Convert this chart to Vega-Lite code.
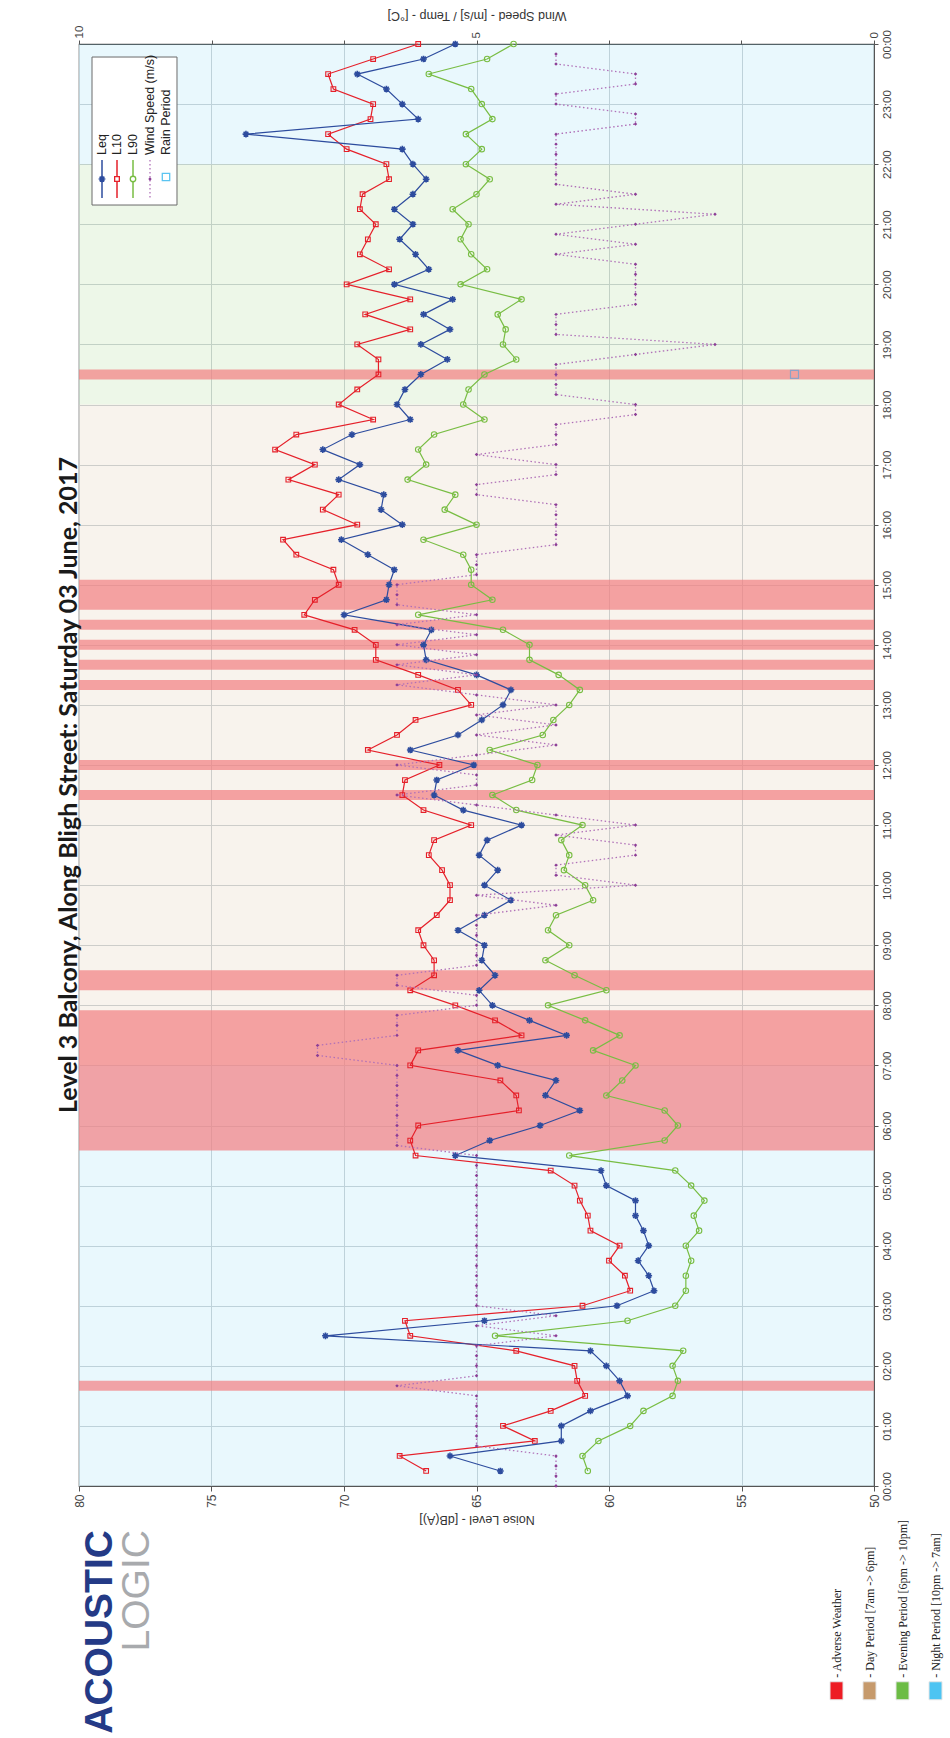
{
  "$schema": "https://vega.github.io/schema/vega-lite/v6.json",
  "width": 795,
  "height": 1442,
  "autosize": {"type": "none"},
  "padding": {"left": 79, "top": 44, "right": 76, "bottom": 252},
  "background": "white",
  "title": {
    "text": "Level 3 Balcony, Along Bligh Street: Saturday 03 June, 2017",
    "orient": "left", "anchor": "middle", "frame": "group", "offset": -29, "baseline": "alphabetic", "dx": -20,
    "font": "Lato", "fontSize": 25, "fontWeight": "bold", "color": "#1a1a1a"
  },
  "config": {
    "view": {"stroke": "#555555", "strokeWidth": 1.2},
    "axis": {
      "labelFont": "Liberation Sans", "titleFont": "Liberation Sans",
      "labelColor": "#444444", "titleColor": "#333333",
      "labelFontSize": 12, "titleFontSize": 12.5, "titleFontWeight": "normal",
      "domainColor": "#555555", "tickColor": "#555555",
      "gridColor": "#cfd4d8", "gridWidth": 1
    }
  },
  "datasets": {
    "noise": [
      {"minute": 15, "Leq": 64.1, "L10": 66.9, "L90": 60.8},
      {"minute": 30, "Leq": 66.0, "L10": 67.9, "L90": 61.0},
      {"minute": 45, "Leq": 61.8, "L10": 62.8, "L90": 60.4},
      {"minute": 60, "Leq": 61.8, "L10": 64.0, "L90": 59.2},
      {"minute": 75, "Leq": 60.7, "L10": 62.2, "L90": 58.7},
      {"minute": 90, "Leq": 59.3, "L10": 60.9, "L90": 57.6},
      {"minute": 105, "Leq": 59.6, "L10": 61.2, "L90": 57.4},
      {"minute": 120, "Leq": 60.1, "L10": 61.3, "L90": 57.6},
      {"minute": 135, "Leq": 60.7, "L10": 63.5, "L90": 57.2},
      {"minute": 150, "Leq": 70.7, "L10": 67.5, "L90": 64.3},
      {"minute": 165, "Leq": 64.7, "L10": 67.7, "L90": 59.3},
      {"minute": 180, "Leq": 59.7, "L10": 61.0, "L90": 57.5},
      {"minute": 195, "Leq": 58.3, "L10": 59.2, "L90": 57.1},
      {"minute": 210, "Leq": 58.5, "L10": 59.4, "L90": 57.1},
      {"minute": 225, "Leq": 58.9, "L10": 60.0, "L90": 56.9},
      {"minute": 240, "Leq": 58.5, "L10": 59.6, "L90": 57.1},
      {"minute": 255, "Leq": 58.7, "L10": 60.7, "L90": 56.6},
      {"minute": 270, "Leq": 59.0, "L10": 60.8, "L90": 56.8},
      {"minute": 285, "Leq": 59.0, "L10": 61.1, "L90": 56.4},
      {"minute": 300, "Leq": 60.1, "L10": 61.3, "L90": 56.9},
      {"minute": 315, "Leq": 60.3, "L10": 62.2, "L90": 57.5},
      {"minute": 330, "Leq": 65.8, "L10": 67.3, "L90": 61.5},
      {"minute": 345, "Leq": 64.5, "L10": 67.5, "L90": 57.9},
      {"minute": 360, "Leq": 62.6, "L10": 67.2, "L90": 57.4},
      {"minute": 375, "Leq": 61.1, "L10": 63.4, "L90": 57.9},
      {"minute": 390, "Leq": 62.4, "L10": 63.5, "L90": 60.1},
      {"minute": 405, "Leq": 62.0, "L10": 64.1, "L90": 59.5},
      {"minute": 420, "Leq": 64.2, "L10": 67.5, "L90": 59.0},
      {"minute": 435, "Leq": 65.7, "L10": 67.2, "L90": 60.6},
      {"minute": 450, "Leq": 61.6, "L10": 63.3, "L90": 59.6},
      {"minute": 465, "Leq": 63.0, "L10": 64.3, "L90": 60.9},
      {"minute": 480, "Leq": 64.4, "L10": 65.8, "L90": 62.3},
      {"minute": 495, "Leq": 64.9, "L10": 67.5, "L90": 60.1},
      {"minute": 510, "Leq": 64.3, "L10": 66.6, "L90": 61.3},
      {"minute": 525, "Leq": 64.8, "L10": 66.6, "L90": 62.4},
      {"minute": 540, "Leq": 64.7, "L10": 67.0, "L90": 61.5},
      {"minute": 555, "Leq": 65.7, "L10": 67.2, "L90": 62.3},
      {"minute": 570, "Leq": 64.7, "L10": 66.5, "L90": 62.0},
      {"minute": 585, "Leq": 63.7, "L10": 66.0, "L90": 60.6},
      {"minute": 600, "Leq": 64.7, "L10": 66.0, "L90": 60.9},
      {"minute": 615, "Leq": 64.2, "L10": 66.3, "L90": 61.7},
      {"minute": 630, "Leq": 64.9, "L10": 66.8, "L90": 61.5},
      {"minute": 645, "Leq": 64.6, "L10": 66.6, "L90": 61.8},
      {"minute": 660, "Leq": 63.3, "L10": 65.2, "L90": 61.0},
      {"minute": 675, "Leq": 65.5, "L10": 67.0, "L90": 63.5},
      {"minute": 690, "Leq": 66.6, "L10": 67.8, "L90": 64.4},
      {"minute": 705, "Leq": 66.5, "L10": 67.7, "L90": 62.9},
      {"minute": 720, "Leq": 65.1, "L10": 66.4, "L90": 62.7},
      {"minute": 735, "Leq": 67.5, "L10": 69.1, "L90": 64.5},
      {"minute": 750, "Leq": 65.7, "L10": 68.0, "L90": 62.5},
      {"minute": 765, "Leq": 64.8, "L10": 67.3, "L90": 62.1},
      {"minute": 780, "Leq": 64.0, "L10": 65.2, "L90": 61.5},
      {"minute": 795, "Leq": 63.7, "L10": 65.7, "L90": 61.1},
      {"minute": 810, "Leq": 65.0, "L10": 67.2, "L90": 61.9},
      {"minute": 825, "Leq": 66.9, "L10": 68.8, "L90": 63.0},
      {"minute": 840, "Leq": 67.0, "L10": 68.8, "L90": 63.0},
      {"minute": 855, "Leq": 66.7, "L10": 69.6, "L90": 64.0},
      {"minute": 870, "Leq": 70.0, "L10": 71.5, "L90": 67.2},
      {"minute": 885, "Leq": 68.4, "L10": 71.1, "L90": 64.4},
      {"minute": 900, "Leq": 68.3, "L10": 70.2, "L90": 65.2},
      {"minute": 915, "Leq": 68.1, "L10": 70.4, "L90": 65.2},
      {"minute": 930, "Leq": 69.1, "L10": 71.8, "L90": 65.5},
      {"minute": 945, "Leq": 70.1, "L10": 72.3, "L90": 67.0},
      {"minute": 960, "Leq": 67.8, "L10": 69.5, "L90": 65.0},
      {"minute": 975, "Leq": 68.6, "L10": 70.8, "L90": 66.2},
      {"minute": 990, "Leq": 68.5, "L10": 70.2, "L90": 65.8},
      {"minute": 1005, "Leq": 70.2, "L10": 72.1, "L90": 67.6},
      {"minute": 1020, "Leq": 69.4, "L10": 71.1, "L90": 66.9},
      {"minute": 1035, "Leq": 70.8, "L10": 72.6, "L90": 67.2},
      {"minute": 1050, "Leq": 69.7, "L10": 71.8, "L90": 66.6},
      {"minute": 1065, "Leq": 67.5, "L10": 68.9, "L90": 64.7},
      {"minute": 1080, "Leq": 68.0, "L10": 70.2, "L90": 65.5},
      {"minute": 1095, "Leq": 67.7, "L10": 69.5, "L90": 65.3},
      {"minute": 1110, "Leq": 67.1, "L10": 68.7, "L90": 64.7},
      {"minute": 1125, "Leq": 66.1, "L10": 68.7, "L90": 63.5},
      {"minute": 1140, "Leq": 67.1, "L10": 69.5, "L90": 64.0},
      {"minute": 1155, "Leq": 66.0, "L10": 67.5, "L90": 63.9},
      {"minute": 1170, "Leq": 67.0, "L10": 69.2, "L90": 64.2},
      {"minute": 1185, "Leq": 65.9, "L10": 67.5, "L90": 63.3},
      {"minute": 1200, "Leq": 68.1, "L10": 69.9, "L90": 65.6},
      {"minute": 1215, "Leq": 66.8, "L10": 68.3, "L90": 64.6},
      {"minute": 1230, "Leq": 67.3, "L10": 69.4, "L90": 65.2},
      {"minute": 1245, "Leq": 67.9, "L10": 69.1, "L90": 65.6},
      {"minute": 1260, "Leq": 67.4, "L10": 68.8, "L90": 65.3},
      {"minute": 1275, "Leq": 68.1, "L10": 69.4, "L90": 65.9},
      {"minute": 1290, "Leq": 67.4, "L10": 69.3, "L90": 65.0},
      {"minute": 1305, "Leq": 66.9, "L10": 68.3, "L90": 64.5},
      {"minute": 1320, "Leq": 67.4, "L10": 68.4, "L90": 65.4},
      {"minute": 1335, "Leq": 67.8, "L10": 69.9, "L90": 64.8},
      {"minute": 1350, "Leq": 73.7, "L10": 70.6, "L90": 65.4},
      {"minute": 1365, "Leq": 67.2, "L10": 69.0, "L90": 64.4},
      {"minute": 1380, "Leq": 67.8, "L10": 68.9, "L90": 64.8},
      {"minute": 1395, "Leq": 68.4, "L10": 70.4, "L90": 65.2},
      {"minute": 1410, "Leq": 69.5, "L10": 70.6, "L90": 66.8},
      {"minute": 1425, "Leq": 67.0, "L10": 68.9, "L90": 64.6},
      {"minute": 1440, "Leq": 65.8, "L10": 67.2, "L90": 63.6}
    ],
    "wind": [
      {"minute": 0, "wind": 4}, {"minute": 10, "wind": 4}, {"minute": 20, "wind": 4}, {"minute": 30, "wind": 4},
      {"minute": 40, "wind": 5}, {"minute": 50, "wind": 5}, {"minute": 60, "wind": 5}, {"minute": 70, "wind": 5},
      {"minute": 80, "wind": 5}, {"minute": 90, "wind": 5}, {"minute": 100, "wind": 6}, {"minute": 110, "wind": 5},
      {"minute": 120, "wind": 5}, {"minute": 130, "wind": 5}, {"minute": 140, "wind": 5}, {"minute": 150, "wind": 4},
      {"minute": 160, "wind": 5}, {"minute": 170, "wind": 4}, {"minute": 180, "wind": 5}, {"minute": 190, "wind": 5},
      {"minute": 200, "wind": 5}, {"minute": 210, "wind": 5}, {"minute": 220, "wind": 5}, {"minute": 230, "wind": 5},
      {"minute": 240, "wind": 5}, {"minute": 250, "wind": 5}, {"minute": 260, "wind": 5}, {"minute": 270, "wind": 5},
      {"minute": 280, "wind": 5}, {"minute": 290, "wind": 5}, {"minute": 300, "wind": 5}, {"minute": 310, "wind": 5},
      {"minute": 320, "wind": 5}, {"minute": 330, "wind": 5}, {"minute": 340, "wind": 6}, {"minute": 350, "wind": 6},
      {"minute": 360, "wind": 6}, {"minute": 370, "wind": 6}, {"minute": 380, "wind": 6}, {"minute": 390, "wind": 6},
      {"minute": 400, "wind": 6}, {"minute": 410, "wind": 6}, {"minute": 420, "wind": 6}, {"minute": 430, "wind": 7},
      {"minute": 440, "wind": 7}, {"minute": 450, "wind": 6}, {"minute": 460, "wind": 6}, {"minute": 470, "wind": 6},
      {"minute": 480, "wind": 5}, {"minute": 490, "wind": 5}, {"minute": 500, "wind": 6}, {"minute": 510, "wind": 6},
      {"minute": 520, "wind": 5}, {"minute": 530, "wind": 5}, {"minute": 540, "wind": 5}, {"minute": 550, "wind": 5},
      {"minute": 560, "wind": 5}, {"minute": 570, "wind": 5}, {"minute": 580, "wind": 4}, {"minute": 590, "wind": 5},
      {"minute": 600, "wind": 3}, {"minute": 610, "wind": 4}, {"minute": 620, "wind": 4}, {"minute": 630, "wind": 3},
      {"minute": 640, "wind": 3}, {"minute": 650, "wind": 4}, {"minute": 660, "wind": 3}, {"minute": 670, "wind": 4},
      {"minute": 680, "wind": 5}, {"minute": 690, "wind": 6}, {"minute": 700, "wind": 5}, {"minute": 710, "wind": 5},
      {"minute": 720, "wind": 6}, {"minute": 730, "wind": 5}, {"minute": 740, "wind": 4}, {"minute": 750, "wind": 5},
      {"minute": 760, "wind": 4}, {"minute": 770, "wind": 5}, {"minute": 780, "wind": 4}, {"minute": 790, "wind": 5},
      {"minute": 800, "wind": 6}, {"minute": 810, "wind": 5}, {"minute": 820, "wind": 6}, {"minute": 830, "wind": 5},
      {"minute": 840, "wind": 6}, {"minute": 850, "wind": 5}, {"minute": 860, "wind": 6}, {"minute": 870, "wind": 5},
      {"minute": 880, "wind": 6}, {"minute": 890, "wind": 6}, {"minute": 900, "wind": 6}, {"minute": 910, "wind": 5},
      {"minute": 920, "wind": 5}, {"minute": 930, "wind": 5}, {"minute": 940, "wind": 4}, {"minute": 950, "wind": 4},
      {"minute": 960, "wind": 4}, {"minute": 970, "wind": 4}, {"minute": 980, "wind": 4}, {"minute": 990, "wind": 5},
      {"minute": 1000, "wind": 5}, {"minute": 1010, "wind": 4}, {"minute": 1020, "wind": 4}, {"minute": 1030, "wind": 5},
      {"minute": 1040, "wind": 4}, {"minute": 1050, "wind": 4}, {"minute": 1060, "wind": 4}, {"minute": 1070, "wind": 3},
      {"minute": 1080, "wind": 3}, {"minute": 1090, "wind": 4}, {"minute": 1100, "wind": 4}, {"minute": 1110, "wind": 4},
      {"minute": 1120, "wind": 4}, {"minute": 1130, "wind": 3}, {"minute": 1140, "wind": 2}, {"minute": 1150, "wind": 4},
      {"minute": 1160, "wind": 4}, {"minute": 1170, "wind": 4}, {"minute": 1180, "wind": 3}, {"minute": 1190, "wind": 3},
      {"minute": 1200, "wind": 3}, {"minute": 1210, "wind": 3}, {"minute": 1220, "wind": 3}, {"minute": 1230, "wind": 4},
      {"minute": 1240, "wind": 3}, {"minute": 1250, "wind": 4}, {"minute": 1260, "wind": 3}, {"minute": 1270, "wind": 2},
      {"minute": 1280, "wind": 4}, {"minute": 1290, "wind": 3}, {"minute": 1300, "wind": 4}, {"minute": 1310, "wind": 4},
      {"minute": 1320, "wind": 4}, {"minute": 1330, "wind": 4}, {"minute": 1340, "wind": 4}, {"minute": 1350, "wind": 4},
      {"minute": 1360, "wind": 3}, {"minute": 1370, "wind": 3}, {"minute": 1380, "wind": 4}, {"minute": 1390, "wind": 4},
      {"minute": 1400, "wind": 3}, {"minute": 1410, "wind": 3}, {"minute": 1420, "wind": 4}, {"minute": 1430, "wind": 4}
    ],
    "rain": [{"minute": 1110, "wind": 1}],
    "bands": [
      {"start": 95, "end": 105}, {"start": 335, "end": 475}, {"start": 495, "end": 515},
      {"start": 685, "end": 695}, {"start": 715, "end": 725}, {"start": 795, "end": 805},
      {"start": 815, "end": 825}, {"start": 835, "end": 845}, {"start": 855, "end": 865},
      {"start": 875, "end": 905}, {"start": 1105, "end": 1115}
    ],
    "periods": [
      {"period": "Night Period [10pm -> 7am]", "start": 0, "end": 420},
      {"period": "Day Period [7am -> 6pm]", "start": 420, "end": 1080},
      {"period": "Evening Period [6pm -> 10pm]", "start": 1080, "end": 1320},
      {"period": "Night Period [10pm -> 7am]", "start": 1320, "end": 1440}
    ]
  },
  "layer": [
    {
      "layer": [
        {
          "data": {"name": "periods"},
          "mark": {"type": "rect", "opacity": 0.12},
          "encoding": {
            "y": {
              "field": "start", "type": "quantitative",
              "scale": {"domain": [0, 1440], "nice": false, "zero": false},
              "axis": {
                "orient": "right", "title": null, "grid": true,
                "values": [0, 60, 120, 180, 240, 300, 360, 420, 480, 540, 600, 660, 720, 780, 840, 900, 960, 1020, 1080, 1140, 1200, 1260, 1320, 1380, 1440],
                "labelExpr": "(floor(datum.value/60)%24 < 10 ? '0' : '') + (floor(datum.value/60)%24) + ':00'",
                "labelAngle": -90, "labelAlign": "center", "labelBaseline": "top",
                "labelPadding": 3, "tickSize": 4, "labelFontSize": 11.5
              }
            },
            "y2": {"field": "end"},
            "fill": {
              "field": "period", "type": "nominal",
              "scale": {
                "domain": ["Adverse Weather", "Day Period [7am -> 6pm]", "Evening Period [6pm -> 10pm]", "Night Period [10pm -> 7am]"],
                "range": ["#ed1c24", "#c69a6c", "#6cbc45", "#4dc4f2"]
              },
              "legend": {
                "orient": "none", "legendX": 747, "legendY": 1636, "title": null, "direction": "horizontal",
                "symbolType": "M-0.65,-0.9H0.65V0.9H-0.65Z", "symbolSize": 400,
                "symbolStrokeColor": "#e6e6e6", "symbolStrokeWidth": 1, "symbolOpacity": 1,
                "labelFont": "Liberation Serif", "labelFontSize": 12, "labelColor": "#222222",
                "labelExpr": "'- ' + datum.label",
                "columnPadding": 14, "labelOffset": 0, "padding": 0,
                "encoding": {"labels": {"angle": {"value": -90}, "dx": {"value": 13}, "dy": {"value": -10.5}}}
              }
            }
          }
        },
        {
          "data": {"name": "bands"},
          "mark": {"type": "rect", "fill": "#f27e80", "opacity": 0.7},
          "encoding": {
            "y": {"field": "start", "type": "quantitative"},
            "y2": {"field": "end"}
          }
        },
        {
          "data": {"name": "noise"},
          "mark": {"type": "line", "stroke": "#78bd43", "strokeWidth": 1.2},
          "encoding": {
            "x": {
              "field": "L90", "type": "quantitative",
              "scale": {"domain": [50, 80], "reverse": true, "nice": false, "zero": false},
              "axis": {
                "orient": "bottom", "values": [50, 55, 60, 65, 70, 75, 80], "grid": true,
                "labelAngle": -90, "labelAlign": "right", "labelBaseline": "middle",
                "labelPadding": 3, "tickSize": 5,
                "title": "Noise Level - [dB(A)]", "titleAngle": 180, "titleBaseline": "bottom", "titlePadding": 5
              }
            },
            "y": {"field": "minute", "type": "quantitative"},
            "order": {"field": "minute", "type": "quantitative"}
          }
        },
        {
          "data": {"name": "noise"},
          "mark": {"type": "point", "shape": "circle", "filled": false, "stroke": "#78bd43", "size": 30, "strokeWidth": 1.1, "opacity": 1},
          "encoding": {
            "x": {"field": "L90", "type": "quantitative"},
            "y": {"field": "minute", "type": "quantitative"}
          }
        },
        {
          "data": {"name": "noise"},
          "mark": {"type": "line", "stroke": "#e5202a", "strokeWidth": 1.2},
          "encoding": {
            "x": {"field": "L10", "type": "quantitative"},
            "y": {"field": "minute", "type": "quantitative"},
            "order": {"field": "minute", "type": "quantitative"}
          }
        },
        {
          "data": {"name": "noise"},
          "mark": {"type": "point", "shape": "square", "filled": false, "stroke": "#e5202a", "size": 22, "strokeWidth": 1.1, "opacity": 1},
          "encoding": {
            "x": {"field": "L10", "type": "quantitative"},
            "y": {"field": "minute", "type": "quantitative"}
          }
        },
        {
          "data": {"name": "noise"},
          "mark": {"type": "line", "stroke": "#2d4c9e", "strokeWidth": 1.2},
          "encoding": {
            "x": {"field": "Leq", "type": "quantitative"},
            "y": {"field": "minute", "type": "quantitative"},
            "order": {"field": "minute", "type": "quantitative"}
          }
        },
        {
          "data": {"name": "noise"},
          "mark": {"type": "point", "shape": "M-1,0H1M0,-1V1M-0.7,-0.7L0.7,0.7M-0.7,0.7L0.7,-0.7", "filled": false, "stroke": "#2d4c9e", "size": 45, "strokeWidth": 1.6, "opacity": 1},
          "encoding": {
            "x": {"field": "Leq", "type": "quantitative"},
            "y": {"field": "minute", "type": "quantitative"}
          }
        },
        {
          "data": {"values": [{}]},
          "layer": [
            {
              "mark": {"type": "rect", "fill": "#ffffff", "stroke": "#6b6b6b", "strokeWidth": 1},
              "encoding": {
                "x": {"datum": 79.509, "type": "quantitative", "scale": {"domain": [50, 80], "reverse": true, "nice": false, "zero": false}},
                "x2": {"datum": 76.302},
                "y": {"datum": 1427.0, "type": "quantitative", "scale": {"domain": [0, 1440], "nice": false, "zero": false}},
                "y2": {"datum": 1279.2}
              }
            },
            {
              "mark": {"type": "rule", "stroke": "#2d4c9e", "strokeWidth": 1.5},
              "encoding": {
                "x": {"datum": 79.132, "type": "quantitative"},
                "y": {"datum": 1324.2, "type": "quantitative"}, "y2": {"datum": 1286.2}
              }
            },
            {
              "mark": {"type": "rule", "stroke": "#e5202a", "strokeWidth": 1.5},
              "encoding": {
                "x": {"datum": 78.566, "type": "quantitative"},
                "y": {"datum": 1324.2, "type": "quantitative"}, "y2": {"datum": 1286.2}
              }
            },
            {
              "mark": {"type": "rule", "stroke": "#78bd43", "strokeWidth": 1.5},
              "encoding": {
                "x": {"datum": 77.962, "type": "quantitative"},
                "y": {"datum": 1324.2, "type": "quantitative"}, "y2": {"datum": 1286.2}
              }
            },
            {
              "mark": {"type": "rule", "stroke": "#b070b8", "strokeWidth": 1.3, "strokeDash": [1.5, 2.5]},
              "encoding": {
                "x": {"datum": 77.321, "type": "quantitative"},
                "y": {"datum": 1324.2, "type": "quantitative"}, "y2": {"datum": 1286.2}
              }
            },
            {
              "mark": {"type": "point", "shape": "M-1,0H1M0,-1V1M-0.7,-0.7L0.7,0.7M-0.7,0.7L0.7,-0.7", "filled": false, "stroke": "#2d4c9e", "size": 45, "strokeWidth": 1.6, "opacity": 1},
              "encoding": {
                "x": {"datum": 79.132, "type": "quantitative"},
                "y": {"datum": 1305.2, "type": "quantitative"}
              }
            },
            {
              "mark": {"type": "point", "shape": "square", "filled": true, "fill": "#ffffff", "stroke": "#e5202a", "size": 22, "strokeWidth": 1.3, "opacity": 1},
              "encoding": {
                "x": {"datum": 78.566, "type": "quantitative"},
                "y": {"datum": 1305.2, "type": "quantitative"}
              }
            },
            {
              "mark": {"type": "point", "shape": "circle", "filled": true, "fill": "#ffffff", "stroke": "#78bd43", "size": 30, "strokeWidth": 1.3, "opacity": 1},
              "encoding": {
                "x": {"datum": 77.962, "type": "quantitative"},
                "y": {"datum": 1305.2, "type": "quantitative"}
              }
            },
            {
              "mark": {"type": "point", "shape": "diamond", "filled": true, "fill": "#8b3d95", "size": 12, "opacity": 1},
              "encoding": {
                "x": {"datum": 77.321, "type": "quantitative"},
                "y": {"datum": 1305.2, "type": "quantitative"}
              }
            },
            {
              "mark": {"type": "point", "shape": "square", "filled": false, "stroke": "#5bc4f1", "size": 55, "strokeWidth": 1.3, "opacity": 1},
              "encoding": {
                "x": {"datum": 76.717, "type": "quantitative"},
                "y": {"datum": 1307.2, "type": "quantitative"}
              }
            },
            {
              "mark": {"type": "text", "text": "Leq", "angle": 270, "align": "left", "baseline": "middle", "font": "Liberation Sans", "fontSize": 12.5, "fill": "#222222"},
              "encoding": {
                "x": {"datum": 79.132, "type": "quantitative"},
                "y": {"datum": 1329.2, "type": "quantitative"}
              }
            },
            {
              "mark": {"type": "text", "text": "L10", "angle": 270, "align": "left", "baseline": "middle", "font": "Liberation Sans", "fontSize": 12.5, "fill": "#222222"},
              "encoding": {
                "x": {"datum": 78.566, "type": "quantitative"},
                "y": {"datum": 1329.2, "type": "quantitative"}
              }
            },
            {
              "mark": {"type": "text", "text": "L90", "angle": 270, "align": "left", "baseline": "middle", "font": "Liberation Sans", "fontSize": 12.5, "fill": "#222222"},
              "encoding": {
                "x": {"datum": 77.962, "type": "quantitative"},
                "y": {"datum": 1329.2, "type": "quantitative"}
              }
            },
            {
              "mark": {"type": "text", "text": "Wind Speed (m/s)", "angle": 270, "align": "left", "baseline": "middle", "font": "Liberation Sans", "fontSize": 12.5, "fill": "#222222"},
              "encoding": {
                "x": {"datum": 77.321, "type": "quantitative"},
                "y": {"datum": 1329.2, "type": "quantitative"}
              }
            },
            {
              "mark": {"type": "text", "text": "Rain Period", "angle": 270, "align": "left", "baseline": "middle", "font": "Liberation Sans", "fontSize": 12.5, "fill": "#222222"},
              "encoding": {
                "x": {"datum": 76.717, "type": "quantitative"},
                "y": {"datum": 1329.2, "type": "quantitative"}
              }
            },
            {
              "mark": {"type": "text", "text": "ACOUSTIC", "angle": 270, "align": "right", "baseline": "alphabetic", "font": "Liberation Sans", "fontWeight": "bold", "fontSize": 39, "fill": "#243a86"},
              "encoding": {
                "x": {"datum": 78.755, "type": "quantitative"},
                "y": {"datum": -44, "type": "quantitative"}
              }
            },
            {
              "mark": {"type": "text", "text": "LOGIC", "angle": 270, "align": "right", "baseline": "alphabetic", "font": "Liberation Sans", "fontWeight": "normal", "fontSize": 39, "fill": "#a8aaad"},
              "encoding": {
                "x": {"datum": 77.358, "type": "quantitative"},
                "y": {"datum": -44, "type": "quantitative"}
              }
            }
          ]
        }
      ]
    },
    {
      "layer": [
        {
          "data": {"name": "wind"},
          "mark": {"type": "line", "stroke": "#b070b8", "strokeWidth": 1.3, "strokeDash": [1.5, 2.5]},
          "encoding": {
            "x": {
              "field": "wind", "type": "quantitative",
              "scale": {"domain": [0, 10], "reverse": true, "nice": false, "zero": false},
              "axis": {
                "orient": "top", "grid": false, "format": "d",
                "values": [0, 1.6667, 3.3333, 5, 6.6667, 8.3333, 10],
                "labelExpr": "(datum.value < 0.01 || abs(datum.value - 5) < 0.01 || datum.value > 9.99) ? datum.label : ''",
                "labelAngle": -90, "labelAlign": "left", "labelBaseline": "middle",
                "labelPadding": 2, "tickSize": 4, "labelFontSize": 11.5,
                "title": "Wind Speed - [m/s] / Temp - [°C]", "titleAngle": 180, "titleBaseline": "top", "titlePadding": 4
              }
            },
            "y": {"field": "minute", "type": "quantitative", "scale": {"domain": [0, 1440], "nice": false, "zero": false}},
            "order": {"field": "minute", "type": "quantitative"}
          }
        },
        {
          "data": {"name": "wind"},
          "mark": {"type": "point", "shape": "diamond", "filled": true, "fill": "#8b3d95", "size": 12, "opacity": 1},
          "encoding": {
            "x": {"field": "wind", "type": "quantitative"},
            "y": {"field": "minute", "type": "quantitative"}
          }
        },
        {
          "data": {"name": "rain"},
          "mark": {"type": "point", "shape": "square", "filled": false, "stroke": "#8ea2c6", "size": 64, "strokeWidth": 1.2, "opacity": 1},
          "encoding": {
            "x": {"field": "wind", "type": "quantitative"},
            "y": {"field": "minute", "type": "quantitative"}
          }
        }
      ]
    }
  ],
  "resolve": {"scale": {"x": "independent"}, "axis": {"x": "independent"}}
}
